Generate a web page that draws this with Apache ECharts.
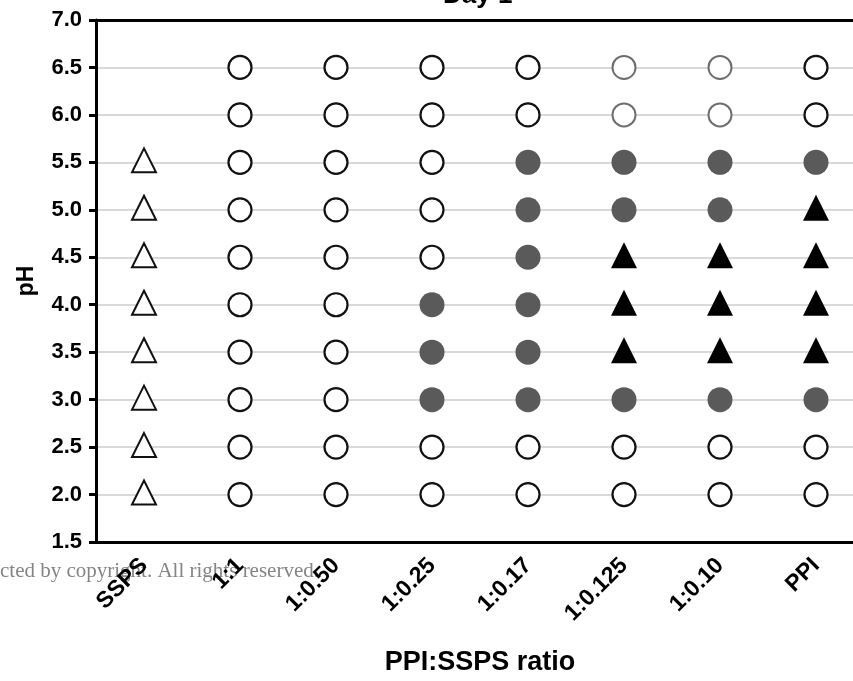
<!DOCTYPE html>
<html>
<head>
<meta charset="utf-8">
<script src="https://cdn.jsdelivr.net/npm/echarts@6/dist/echarts.min.js"></script>
<style>
  html, body { margin: 0; padding: 0; background: #fff; }
  #chart { width: 853px; height: 681px; }
</style>
</head>
<body>
<div id="chart"></div>
<script>
const ratios = ['SSPS', '1:1', '1:0.50', '1:0.25', '1:0.17', '1:0.125', '1:0.10', 'PPI']
const yTicks = [1.5, 2.0, 2.5, 3.0, 3.5, 4.0, 4.5, 5.0, 5.5, 6.0, 6.5, 7.0]

// [ratio, pH] per marker kind
const openCircle = [
  ['1:1', 2.0], ['1:1', 2.5], ['1:1', 3.0], ['1:1', 3.5], ['1:1', 4.0], ['1:1', 4.5], ['1:1', 5.0], ['1:1', 5.5], ['1:1', 6.0], ['1:1', 6.5],
  ['1:0.50', 2.0], ['1:0.50', 2.5], ['1:0.50', 3.0], ['1:0.50', 3.5], ['1:0.50', 4.0], ['1:0.50', 4.5], ['1:0.50', 5.0], ['1:0.50', 5.5], ['1:0.50', 6.0], ['1:0.50', 6.5],
  ['1:0.25', 2.0], ['1:0.25', 2.5], ['1:0.25', 4.5], ['1:0.25', 5.0], ['1:0.25', 5.5], ['1:0.25', 6.0], ['1:0.25', 6.5],
  ['1:0.17', 2.0], ['1:0.17', 2.5], ['1:0.17', 6.0], ['1:0.17', 6.5],
  ['1:0.125', 2.0], ['1:0.125', 2.5],
  ['1:0.10', 2.0], ['1:0.10', 2.5],
  ['PPI', 2.0], ['PPI', 2.5], ['PPI', 6.0], ['PPI', 6.5],
]
const greyOpenCircle = [
  ['1:0.125', 6.0], ['1:0.125', 6.5],
  ['1:0.10', 6.0], ['1:0.10', 6.5],
]
const filledCircle = [
  ['1:0.25', 3.0], ['1:0.25', 3.5], ['1:0.25', 4.0],
  ['1:0.17', 3.0], ['1:0.17', 3.5], ['1:0.17', 4.0], ['1:0.17', 4.5], ['1:0.17', 5.0], ['1:0.17', 5.5],
  ['1:0.125', 3.0], ['1:0.125', 5.0], ['1:0.125', 5.5],
  ['1:0.10', 3.0], ['1:0.10', 5.0], ['1:0.10', 5.5],
  ['PPI', 3.0], ['PPI', 5.5],
]
const filledTriangle = [
  ['1:0.125', 3.5], ['1:0.125', 4.0], ['1:0.125', 4.5],
  ['1:0.10', 3.5], ['1:0.10', 4.0], ['1:0.10', 4.5],
  ['PPI', 3.5], ['PPI', 4.0], ['PPI', 4.5], ['PPI', 5.0],
]
const openTriangle = [
  ['SSPS', 2.0], ['SSPS', 2.5], ['SSPS', 3.0], ['SSPS', 3.5], ['SSPS', 4.0], ['SSPS', 4.5], ['SSPS', 5.0], ['SSPS', 5.5],
]

const font = 'Liberation Sans, Arial, sans-serif'
const chart = echarts.init(document.getElementById('chart'))

const option = {
  animation: false,
  backgroundColor: '#fff',
  textStyle: { fontFamily: font },
  title: {
    text: 'Day 1',
    left: 438,
    top: -22,
    textStyle: { fontFamily: font, fontSize: 26, fontWeight: 'bold', color: '#000' }
  },
  graphic: [{
    type: 'text',
    left: 0,
    top: 561,
    silent: true,
    style: {
      text: 'cted by copyright. All rights reserved.',
      font: '21px "Liberation Serif", "Times New Roman", serif',
      fill: 'rgba(110,110,110,0.85)'
    }
  }],
  // plot runs past the right edge of the picture
  grid: { left: 96, right: -11, top: 20, bottom: 139, outerBoundsMode: 'none', containLabel: false },
  xAxis: [{
    type: 'category',
    data: ratios,
    boundaryGap: true,
    name: 'PPI:SSPS ratio',
    nameLocation: 'middle',
    nameGap: 107,
    nameTextStyle: { fontFamily: font, fontSize: 27, fontWeight: 'bold', color: '#000' },
    axisLine: { lineStyle: { color: '#000', width: 3 } },
    axisTick: { alignWithLabel: true, length: 7, lineStyle: { color: '#000', width: 3 } },
    axisLabel: {
      rotate: 45, margin: 20, interval: 0,
      fontFamily: font, fontSize: 23, fontWeight: 'bold', color: '#000'
    },
    splitLine: { show: false }
  }, {
    type: 'category',
    data: ratios,
    position: 'top',
    axisLine: { lineStyle: { color: '#000', width: 3 } },
    axisTick: { show: false },
    axisLabel: { show: false }
  }],
  yAxis: {
    type: 'value',
    min: yTicks[0],
    max: yTicks[yTicks.length - 1],
    interval: 0.5,
    name: 'pH',
    nameLocation: 'middle',
    nameGap: 58,
    nameTextStyle: { fontFamily: font, fontSize: 23, fontWeight: 'bold', color: '#000' },
    axisLine: { show: true, lineStyle: { color: '#000', width: 3 } },
    axisTick: { show: true, length: 7, lineStyle: { color: '#000', width: 3 } },
    axisLabel: {
      margin: 14,
      fontFamily: font, fontSize: 22, fontWeight: 'bold', color: '#000',
      formatter: v => v.toFixed(1)
    },
    splitLine: { show: true, lineStyle: { color: '#d9d9d9', width: 2 } }
  },
  series: [{
    name: 'open circle',
    type: 'scatter',
    symbol: 'circle',
    symbolSize: 23,
    data: openCircle,
    itemStyle: { color: '#fff', borderColor: '#111', borderWidth: 2.2, opacity: 1 }
  }, {
    name: 'grey open circle',
    type: 'scatter',
    symbol: 'circle',
    symbolSize: 23,
    data: greyOpenCircle,
    itemStyle: { color: '#fff', borderColor: '#6e6e6e', borderWidth: 2, opacity: 1 }
  }, {
    name: 'filled circle',
    type: 'scatter',
    symbol: 'circle',
    symbolSize: 25,
    data: filledCircle,
    itemStyle: { color: '#5a5a5a', opacity: 1 }
  }, {
    name: 'filled triangle',
    type: 'scatter',
    symbol: 'triangle',
    symbolSize: [26, 26],
    symbolOffset: [0, -2],
    data: filledTriangle,
    itemStyle: { color: '#000', opacity: 1 }
  }, {
    name: 'open triangle',
    type: 'scatter',
    symbol: 'triangle',
    symbolSize: [24, 24],
    symbolOffset: [0, -2],
    data: openTriangle,
    itemStyle: { color: '#fff', borderColor: '#111', borderWidth: 2, opacity: 1 }
  }]
}

chart.setOption(option)
</script>
</body>
</html>
